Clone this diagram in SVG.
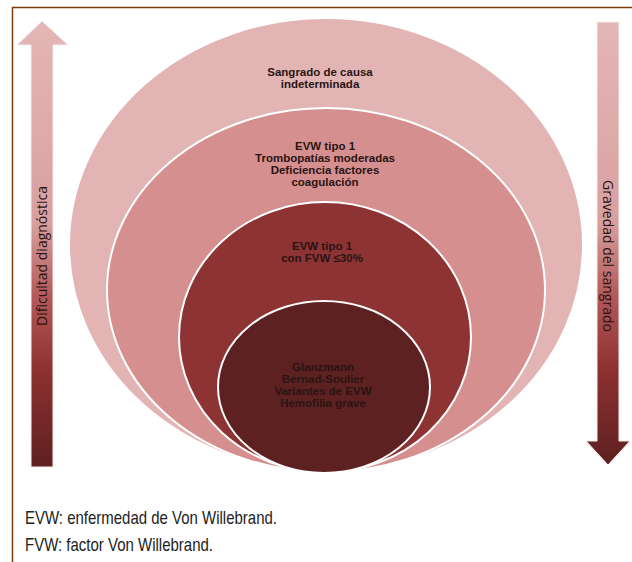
<svg xmlns="http://www.w3.org/2000/svg" width="632" height="562" viewBox="0 0 632 562">
  <defs>
    <linearGradient id="arrowGrad" x1="0" y1="0" x2="0" y2="1">
      <stop offset="0" stop-color="#e4b6b6"/>
      <stop offset="0.45" stop-color="#d9a0a0"/>
      <stop offset="0.62" stop-color="#b35858"/>
      <stop offset="0.78" stop-color="#8e3131"/>
      <stop offset="1" stop-color="#5e2020"/>
    </linearGradient>
    <style>
      .ring { stroke: #ffffff; stroke-width: 2; }
      .lbl { font-family: "Liberation Sans", Arial, sans-serif; font-size: 11.5px; font-weight: bold; fill: #2a1414; text-anchor: middle; }
      .axis { font-family: "Open Sans", "DejaVu Sans", sans-serif; font-size: 14px; fill: #2a1212; text-anchor: middle; }
      .note { font-family: "Liberation Sans", Arial, sans-serif; font-size: 19px; fill: #222222; }
    </style>
  </defs>

  <rect width="632" height="562" fill="#ffffff"/>

  <!-- frame -->
  <path d="M632 7.5 H12.5 V562" fill="none" stroke="#7a3d10" stroke-width="1.5"/>

  <!-- side arrows -->
  <g id="arrow-left">
    <path d="M31 467 V45 H17 L42 21 L68 45 H53 V467 Z" fill="url(#arrowGrad)" stroke="#f4eeee" stroke-width="1"/>
    <text class="axis" transform="translate(47 256) rotate(-90)">Dificultad diagnóstica</text>
  </g>
  <g id="arrow-right">
    <path d="M597 22 H619 V441 H630 L608 465 L586 441 H597 Z" fill="url(#arrowGrad)" stroke="#f4eeee" stroke-width="1"/>
    <text class="axis" transform="translate(603 256) rotate(90)">Gravedad del sangrado</text>
  </g>

  <!-- nested levels -->
  <g id="level-1">
    <ellipse class="ring" cx="326" cy="245" rx="257" ry="227" fill="#e3b4b4"/>
    <text class="lbl" x="320" y="76">Sangrado de causa</text>
    <text class="lbl" x="320" y="88">indeterminada</text>
  </g>
  <g id="level-2">
    <ellipse class="ring" cx="326" cy="290" rx="219" ry="182" fill="#d58f8f"/>
    <text class="lbl" x="325" y="150">EVW tipo 1</text>
    <text class="lbl" x="325" y="162">Trombopatías moderadas</text>
    <text class="lbl" x="325" y="174">Deficiencia factores</text>
    <text class="lbl" x="325" y="186">coagulación</text>
  </g>
  <g id="level-3">
    <ellipse class="ring" cx="325" cy="337" rx="146" ry="135" fill="#8d3333"/>
    <text class="lbl" x="322" y="250">EVW tipo 1</text>
    <text class="lbl" x="322" y="262">con FVW ≤30%</text>
  </g>
  <g id="level-4">
    <ellipse class="ring" cx="324" cy="387" rx="106" ry="86" fill="#5e2121"/>
    <text class="lbl" x="323" y="371">Glanzmann</text>
    <text class="lbl" x="323" y="383">Bernad-Soulier</text>
    <text class="lbl" x="323" y="395">Variantes de EVW</text>
    <text class="lbl" x="323" y="407">Hemofilia grave</text>
  </g>

  <!-- abbreviations -->
  <text class="note" x="25" y="524" textLength="252" lengthAdjust="spacingAndGlyphs">EVW: enfermedad de Von Willebrand.</text>
  <text class="note" x="25" y="551" textLength="188" lengthAdjust="spacingAndGlyphs">FVW: factor Von Willebrand.</text>
</svg>
